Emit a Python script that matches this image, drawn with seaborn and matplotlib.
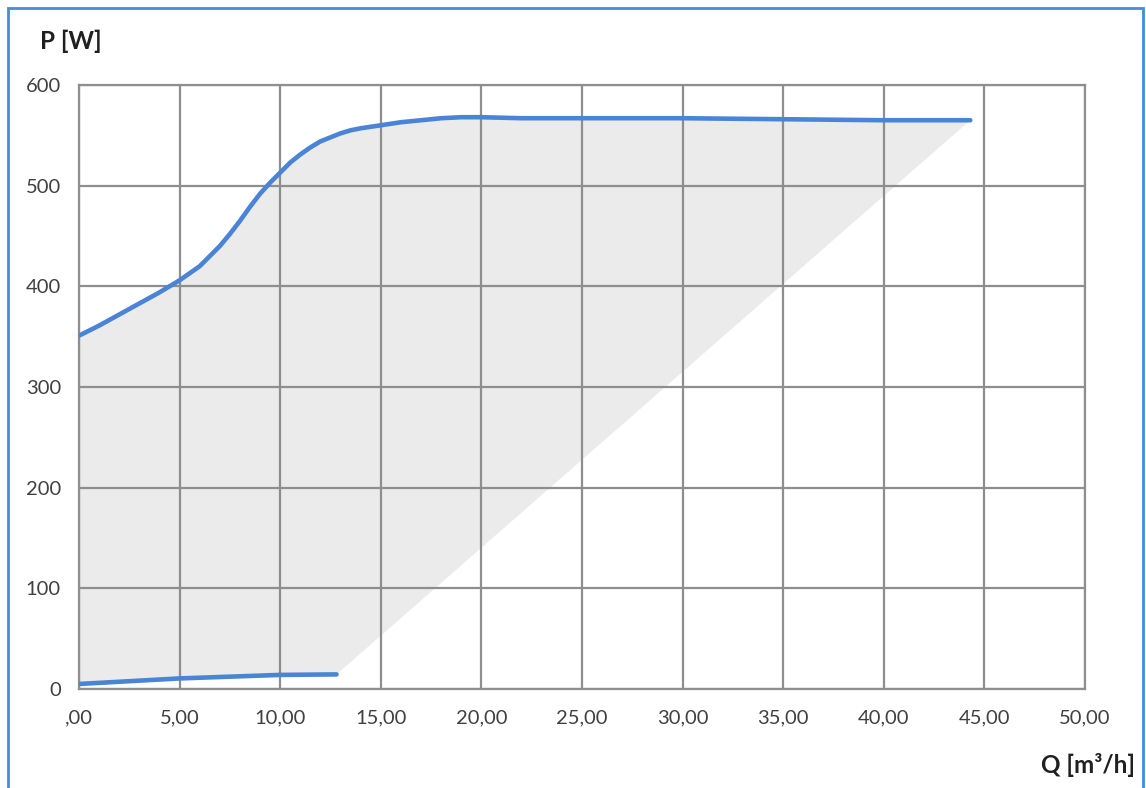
import numpy as np
import pandas as pd
import matplotlib
matplotlib.use("Agg")
import matplotlib.pyplot as plt
import seaborn as sns
from matplotlib.patches import Rectangle
from matplotlib.ticker import FixedLocator

# --- data ---
upper_q = [0.0, 1.0, 2.0, 3.0, 4.0, 5.0, 5.5, 6.0, 6.5, 7.0, 7.5, 8.0, 8.5, 9.0, 9.5, 10.0,
           10.5, 11.0, 11.5, 12.0, 12.5, 13.0, 13.5, 14.0, 15.0, 16.0, 17.0, 18.0, 19.0, 20.0,
           22.0, 25.0, 30.0, 35.0, 40.0, 44.3]
upper_p = [351, 361, 372, 383, 394, 406, 413, 420, 430, 440, 452, 465, 479, 492, 503, 513,
           523, 531, 538, 544, 548, 552, 555, 557, 560, 563, 565, 567, 568, 568,
           567, 567, 567, 566, 565, 565]
lower_q = [0.0, 5.0, 10.0, 12.8]
lower_p = [5, 10.5, 14, 14.5]

x_ticks = [0, 5, 10, 15, 20, 25, 30, 35, 40, 45, 50]
x_labels = [",00", "5,00", "10,00", "15,00", "20,00", "25,00", "30,00", "35,00", "40,00", "45,00", "50,00"]
y_ticks = [0, 100, 200, 300, 400, 500, 600]
y_labels = ["0", "100", "200", "300", "400", "500", "600"]

sns.set_theme(style="white")
plt.rcParams['font.family'] = ['Lato', 'DejaVu Sans']

fig = plt.figure(figsize=(11.46, 7.88), dpi=100)
ax = fig.add_axes([79 / 1146, 1 - 689 / 788, (1085 - 79) / 1146, (689 - 85) / 788])

# filled operating area
poly_q = list(upper_q) + list(lower_q[::-1])
poly_p = list(upper_p) + list(lower_p[::-1])
ax.fill(poly_q, poly_p, color="#ebebeb", zorder=1, lw=0)

grid_c = "#8e8e8e"
ax.set_xlim(0, 50)
ax.set_ylim(0, 600)
ax.xaxis.set_major_locator(FixedLocator(x_ticks))
ax.yaxis.set_major_locator(FixedLocator(y_ticks))
ax.set_xticklabels(x_labels)
ax.set_yticklabels(y_labels)
ax.grid(True, color=grid_c, lw=1.6, zorder=2)
ax.set_axisbelow(False)
for s in ax.spines.values():
    s.set_color(grid_c)
    s.set_linewidth(1.6)
    s.set_zorder(2)
ax.tick_params(axis="both", which="both", direction="out", length=7, width=1.6, color=grid_c,
               labelsize=14.5, labelcolor="#404040")
ax.tick_params(axis="x", pad=8)
ax.tick_params(axis="y", pad=6)

line_c = "#4a84d6"
df_u = pd.DataFrame({"Q": upper_q, "P": upper_p})
df_l = pd.DataFrame({"Q": lower_q, "P": lower_p})
sns.lineplot(data=df_u, x="Q", y="P", ax=ax, color=line_c, lw=3.3, zorder=5, sort=False,
             solid_capstyle="round", solid_joinstyle="round")
sns.lineplot(data=df_l, x="Q", y="P", ax=ax, color=line_c, lw=3.3, zorder=5, sort=False,
             solid_capstyle="round", solid_joinstyle="round")
ax.set_xlabel("")
ax.set_ylabel("")

fig.text(40 / 1146, 1 - 41 / 788, "P [W]", fontsize=17.5, fontweight="bold", color="#202020",
         ha="left", va="center")
fig.text(1135 / 1146, 1 - 765 / 788, "Q [m³/h]", fontsize=17.5, fontweight="bold", color="#202020",
         ha="right", va="center")

# outer blue frame
fig.patches.append(Rectangle((8 / 1146, -0.02), (1143 - 8) / 1146, 1 - 8 / 788 + 0.02,
                             transform=fig.transFigure, fill=False, edgecolor="#3f8ee0", lw=2))

fig.savefig("out.png", dpi=100)
